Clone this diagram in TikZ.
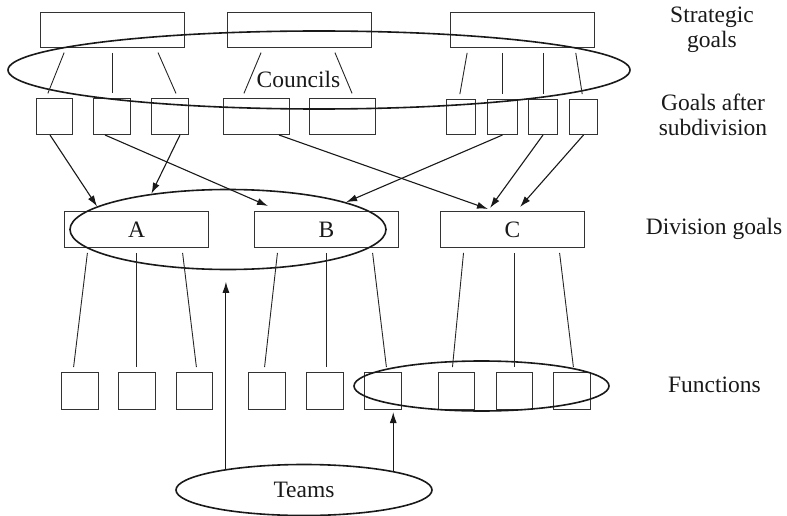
\documentclass[tikz,border=0pt]{standalone}
\usepackage{fontspec}
\setmainfont{Liberation Serif}
\usetikzlibrary{shapes.geometric,arrows.meta,calc}
\begin{document}
\begin{tikzpicture}[x=1pt,y=-1pt,
  every node/.style={font=\fontsize{23.5}{25}\selectfont, text=black!90},
  box/.style={draw=black!80, line width=1pt, rectangle, inner sep=0pt, anchor=north west},
  oval/.style={draw=black!90, line width=1.6pt, ellipse, inner sep=0pt},
  ln/.style={draw=black!85, line width=0.9pt, shorten <=5pt, shorten >=5pt},
  arr/.style={draw=black!90, line width=1.1pt, -{Latex[length=11pt,width=7pt]}}]
\useasboundingbox (0,0) rectangle (787,516);

% strategic goals
\node[box,minimum width=144pt,minimum height=35pt] (s1) at (40,12) {};
\node[box,minimum width=144pt,minimum height=35pt] (s2) at (227,12) {};
\node[box,minimum width=144pt,minimum height=35pt] (s3) at (450,12) {};

% goals after subdivision
\node[box,minimum width=36pt,minimum height=36pt] (g1) at (36,98) {};
\node[box,minimum width=37pt,minimum height=36pt] (g2) at (93,98) {};
\node[box,minimum width=37pt,minimum height=36pt] (g3) at (151,98) {};
\node[box,minimum width=66pt,minimum height=36pt] (g4) at (223,98) {};
\node[box,minimum width=66pt,minimum height=36pt] (g5) at (309,98) {};
\node[box,minimum width=29pt,minimum height=35pt] (g6) at (446,99) {};
\node[box,minimum width=30pt,minimum height=35pt] (g7) at (487,99) {};
\node[box,minimum width=29pt,minimum height=35pt] (g8) at (528,99) {};
\node[box,minimum width=28pt,minimum height=35pt] (g9) at (569,99) {};

% division goals
\node[box,minimum width=144pt,minimum height=36pt] (A) at (64,211) {A};
\node[box,minimum width=144pt,minimum height=36pt] (B) at (254,211) {B};
\node[box,minimum width=144pt,minimum height=36pt] (C) at (440,211) {C};

% functions
\node[box,minimum width=37pt,minimum height=37pt] (f1) at (61,372) {};
\node[box,minimum width=37pt,minimum height=37pt] (f2) at (118,372) {};
\node[box,minimum width=36pt,minimum height=37pt] (f3) at (176,372) {};
\node[box,minimum width=37pt,minimum height=37pt] (f4) at (248,372) {};
\node[box,minimum width=37pt,minimum height=37pt] (f5) at (306,372) {};
\node[box,minimum width=37pt,minimum height=37pt] (f6) at (364,372) {};
\node[box,minimum width=36pt,minimum height=37pt] (f7) at (438,372) {};
\node[box,minimum width=36pt,minimum height=37pt] (f8) at (496,372) {};
\node[box,minimum width=37pt,minimum height=37pt] (f9) at (553,372) {};

% ellipses
\node[oval,minimum width=622pt,minimum height=78pt] (council) at (319,70) {};
\node (ctext) at (298.5,79) {Councils};
\node[oval,minimum width=316pt,minimum height=80pt] (eAB) at (228,229.5) {};
\node[oval,minimum width=255pt,minimum height=50pt] (eF) at (481.5,386) {};
\node[oval,minimum width=256pt,minimum height=51pt] (teams) at (304,490) {Teams};

% right labels
\node[align=center] (lstr) at (712,30) {Strategic\\goals};
\node[align=center] (lsub) at (713,115) {Goals after\\subdivision};
\node (ldiv) at (714,229) {Division goals};
\node (lfun) at (714.5,385) {Functions};

% strategic -> subdivision
\draw[ln] ([xshift=26pt]s1.south west) -- ([xshift=10pt]g1.north west);
\draw[ln] (s1.south) -- (s1.south |- g2.north);
\draw[ln] ([xshift=116pt]s1.south west) -- ([xshift=27pt]g3.north west);
\draw[ln] ([xshift=36pt]s2.south west) -- ([xshift=19pt]g4.north west);
\draw[ln] ([xshift=106pt]s2.south west) -- ([xshift=45pt]g5.north west);
\draw[ln] ([xshift=18pt]s3.south west) -- ([xshift=13pt]g6.north west);
\draw[ln] ([xshift=52pt]s3.south west) -- ([xshift=52pt]s3.south west |- g7.north);
\draw[ln] ([xshift=93pt]s3.south west) -- ([xshift=93pt]s3.south west |- g8.north);
\draw[ln] ([xshift=125pt]s3.south west) -- ([xshift=14pt]g9.north west);

% subdivision -> division
\draw[arr] ([xshift=14pt]g1.south west) -- (eAB.170);
\draw[arr] ([xshift=29pt]g3.south west) -- (eAB.155);
\draw[arr] ([xshift=12pt]g2.south west) -- ([xshift=14pt,yshift=5pt]B.north west);
\draw[arr] ([xshift=56pt]g4.south west) -- ([xshift=48pt,yshift=2pt]C.north west);
\draw[arr] (g7.south) -- (eAB.13);
\draw[arr] (g8.south) -- ([xshift=50pt,yshift=3pt]C.north west);
\draw[arr] (g9.south) -- ([xshift=80pt,yshift=4pt]C.north west);

% division -> functions
\draw[ln] ([xshift=24pt]A.south west) -- ([xshift=12pt]f1.north west);
\draw[ln] (A.south) -- (A.south |- f2.north);
\draw[ln] ([xshift=118pt]A.south west) -- ([xshift=21pt]f3.north west);
\draw[ln] ([xshift=24pt]B.south west) -- ([xshift=16pt]f4.north west);
\draw[ln] (B.south) -- (B.south |- f5.north);
\draw[ln] ([xshift=118pt]B.south west) -- ([xshift=23pt]f6.north west);
\draw[ln] ([xshift=24pt]C.south west) -- ([xshift=14pt]f7.north west);
\draw[ln] ([xshift=74pt]C.south west) -- ([xshift=74pt]C.south west |- f8.north);
\draw[ln] ([xshift=119pt]C.south west) -- ([xshift=21pt]f9.north west);

% teams arrows
\draw[arr, shorten >=11.5pt] (teams.165) -- (teams.165 |- eAB.south);
\draw[arr, shorten >=2pt] (teams.12) -- (teams.12 |- f6.south);
\end{tikzpicture}
\end{document}
